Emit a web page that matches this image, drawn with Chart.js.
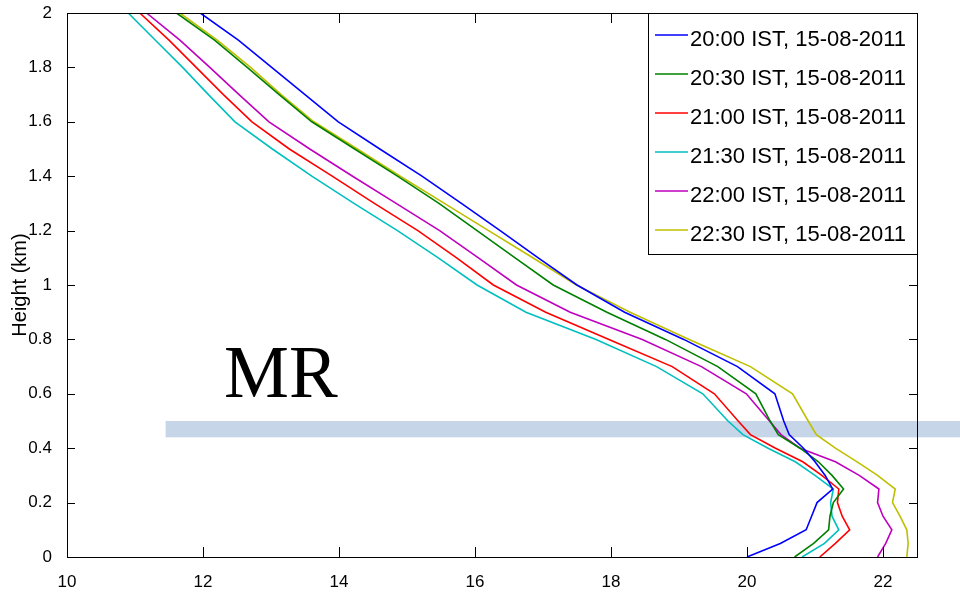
<!DOCTYPE html>
<html>
<head>
<meta charset="utf-8">
<script src="https://cdn.jsdelivr.net/npm/chart.js@4.4.0/dist/chart.umd.min.js"></script>
<style>
  html, body { margin: 0; padding: 0; background: #fff; }
  #wrap { width: 960px; height: 595px; position: relative; }
</style>
</head>
<body>
<div id="wrap"><canvas id="chart" width="960" height="595"></canvas></div>
<script>
// retrieval levels (km)
const heights = [0, 0.05, 0.1, 0.15, 0.2, 0.25, 0.3, 0.35, 0.4, 0.45, 0.5,
                 0.6, 0.7, 0.8, 0.9, 1.0, 1.1, 1.2, 1.3, 1.4, 1.5, 1.6, 1.7, 1.8, 1.9, 2.0];

const timeLabels = ['20:00 IST, 15-08-2011', '20:30 IST, 15-08-2011', '21:00 IST, 15-08-2011',
                    '21:30 IST, 15-08-2011', '22:00 IST, 15-08-2011', '22:30 IST, 15-08-2011'];

// profile values, one per height
const t2000 = [20.0, 20.49, 20.87, 20.95, 21.03, 21.26, 21.15, 21.0, 20.83, 20.62, 20.54,
               20.41, 19.86, 19.07, 18.2, 17.5, 16.93, 16.37, 15.8, 15.22, 14.6, 13.99, 13.5, 13.01, 12.52, 11.96];
const t2030 = [20.7, 20.98, 21.2, 21.22, 21.27, 21.42, 21.25, 21.05, 20.78, 20.46, 20.34,
               20.13, 19.57, 18.8, 17.94, 17.15, 16.59, 16.03, 15.47, 14.86, 14.23, 13.6, 13.12, 12.65, 12.17, 11.61];
const t2100 = [21.07, 21.3, 21.51, 21.4, 21.33, 21.35, 21.1, 20.82, 20.42, 20.05, 19.87,
               19.52, 18.9, 17.97, 17.04, 16.27, 15.73, 15.16, 14.52, 13.9, 13.27, 12.72, 12.3, 11.9, 11.5, 11.07];
const t2130 = [20.81, 21.14, 21.35, 21.25, 21.23, 21.27, 21.0, 20.71, 20.31, 19.94, 19.72,
               19.35, 18.67, 17.78, 16.75, 16.03, 15.46, 14.86, 14.22, 13.6, 13.02, 12.47, 12.08, 11.7, 11.3, 10.9];
const t2200 = [21.92, 22.04, 22.13, 22.0, 21.92, 21.94, 21.65, 21.3, 20.78, 20.5, 20.33,
               19.99, 19.33, 18.46, 17.4, 16.61, 16.05, 15.48, 14.84, 14.2, 13.57, 12.97, 12.53, 12.1, 11.66, 11.17];
const t2230 = [22.35, 22.37, 22.35, 22.25, 22.14, 22.18, 21.92, 21.62, 21.3, 21.02, 20.9,
               20.67, 20.05, 19.15, 18.28, 17.49, 16.85, 16.2, 15.55, 14.9, 14.27, 13.63, 13.15, 12.7, 12.21, 11.66];

const series = [t2000, t2030, t2100, t2130, t2200, t2230];
const colors = ['#0000ff', '#008000', '#ff0000', '#00bfbf', '#bf00bf', '#bfbf00'];

// highlighted layer and label
const band = { fromX: 11.45, low: 0.44, high: 0.5 };
const mrLabel = { text: 'MR', x: 12.31, y: 0.588 };

const sansFont = "'Liberation Sans', Arial, sans-serif";

const datasets = series.map(function (vals, i) {
    return {
        label: timeLabels[i],
        data: heights.map((h, j) => ({ x: vals[j], y: h })),
        showLine: true,
        borderColor: colors[i],
        backgroundColor: colors[i],
        borderWidth: 1.6,
        pointRadius: 0,
        fill: false,
        tension: 0
    };
});

const bandPlugin = {
    id: 'band',
    beforeDatasetsDraw(chart) {
        const ctx = chart.ctx;
        const xs = chart.scales.x, ys = chart.scales.y;
        const x0 = xs.getPixelForValue(band.fromX);
        const yTop = ys.getPixelForValue(band.high);
        const yBot = ys.getPixelForValue(band.low);
        ctx.save();
        ctx.fillStyle = '#c6d6e8';
        ctx.fillRect(x0, yTop, chart.width - x0, yBot - yTop);
        ctx.restore();
    }
};

const framePlugin = {
    id: 'frame',
    afterDatasetsDraw(chart) {
        const ctx = chart.ctx;
        const a = chart.chartArea;
        const xs = chart.scales.x, ys = chart.scales.y;
        ctx.save();
        ctx.strokeStyle = '#000';
        ctx.lineWidth = 1;
        ctx.strokeRect(a.left + 0.5, a.top + 0.5, a.right - a.left, a.bottom - a.top);
        ctx.beginPath();
        xs.ticks.forEach(function (t) {
            const px = Math.round(xs.getPixelForValue(t.value)) + 0.5;
            ctx.moveTo(px, a.bottom); ctx.lineTo(px, a.bottom - 10);
            ctx.moveTo(px, a.top); ctx.lineTo(px, a.top + 10);
        });
        ys.ticks.forEach(function (t) {
            const py = Math.round(ys.getPixelForValue(t.value)) + 0.5;
            ctx.moveTo(a.left, py); ctx.lineTo(a.left + 8, py);
            ctx.moveTo(a.right, py); ctx.lineTo(a.right - 8, py);
        });
        ctx.stroke();

        // big label
        ctx.fillStyle = '#000';
        ctx.font = "73px 'Liberation Serif', 'Times New Roman', serif";
        ctx.textBaseline = 'alphabetic';
        ctx.textAlign = 'left';
        ctx.fillText(mrLabel.text, xs.getPixelForValue(mrLabel.x), ys.getPixelForValue(mrLabel.y));
        ctx.restore();
    }
};

const legendPlugin = {
    id: 'boxLegend',
    afterDraw(chart) {
        const ctx = chart.ctx;
        const a = chart.chartArea;
        const boxW = 269, rowH = 39, boxH = 241;
        const left = a.right - boxW, top = a.top;
        ctx.save();
        ctx.fillStyle = '#fff';
        ctx.fillRect(left, top, boxW, boxH);
        ctx.strokeStyle = '#000';
        ctx.lineWidth = 1;
        ctx.strokeRect(left + 0.5, top + 0.5, boxW, boxH);
        ctx.font = '22px ' + sansFont;
        ctx.textBaseline = 'middle';
        ctx.textAlign = 'left';
        chart.data.datasets.forEach(function (ds, i) {
            const cy = top + 27 + i * rowH;
            ctx.strokeStyle = ds.borderColor;
            ctx.lineWidth = 1.6;
            ctx.beginPath();
            ctx.moveTo(left + 7, cy - 5);
            ctx.lineTo(left + 40, cy - 5);
            ctx.stroke();
            ctx.fillStyle = '#000';
            ctx.fillText(ds.label, left + 42, cy);
        });
        ctx.restore();
    }
};

new Chart(document.getElementById('chart').getContext('2d'), {
    type: 'scatter',
    data: { datasets: datasets },
    options: {
        responsive: false,
        animation: false,
        devicePixelRatio: 1,
        layout: { padding: { top: 13, right: 43, left: 0, bottom: 0 } },
        plugins: { legend: { display: false }, tooltip: { enabled: false } },
        scales: {
            x: {
                type: 'linear',
                min: 10,
                max: 22.5,
                grid: { display: false },
                border: { display: false },
                ticks: {
                    stepSize: 2,
                    includeBounds: false,
                    color: '#000',
                    padding: 7,
                    font: { family: sansFont, size: 17 }
                },
                afterFit(scale) {
                    scale.height = 38;
                    scale.paddingLeft = 0;
                    scale.paddingRight = 0;
                }
            },
            y: {
                type: 'linear',
                min: 0,
                max: 2,
                grid: { display: false },
                border: { display: false },
                ticks: {
                    stepSize: 0.2,
                    color: '#000',
                    padding: 7,
                    font: { family: sansFont, size: 17 },
                    callback: (v) => String(Math.round(v * 10) / 10)
                },
                title: {
                    display: true,
                    text: 'Height (km)',
                    color: '#000',
                    padding: { top: 8, bottom: 0 },
                    font: { family: sansFont, size: 20 }
                },
                afterFit(scale) {
                    scale.width = 67;
                    scale.paddingTop = 0;
                    scale.paddingBottom = 0;
                }
            }
        }
    },
    plugins: [bandPlugin, framePlugin, legendPlugin]
});
</script>
</body>
</html>
